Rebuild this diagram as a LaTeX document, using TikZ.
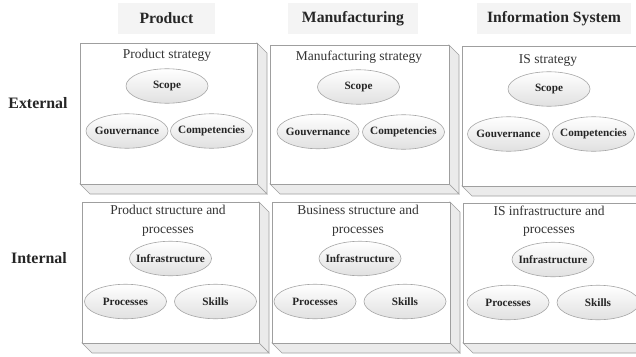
\documentclass[tikz,border=0pt]{standalone}
\usepackage{fontspec}
\setmainfont{Liberation Serif}
\usetikzlibrary{shapes.geometric}
\tikzset{
  hdr/.style={fill=gray!9, minimum width=97pt, minimum height=31pt, inner sep=0pt, font=\fontsize{15.7}{18}\selectfont\bfseries, text=black!85},
  rowlab/.style={font=\fontsize{15.9}{18}\selectfont\bfseries, text=black!85},
  ttl/.style={font=\fontsize{13.5}{18.5}\selectfont, text=black!80, align=center},
  elli/.style={ellipse, draw=gray!70, line width=0.6pt, top color=white, bottom color=gray!24, minimum width=82pt, minimum height=34.5pt, inner sep=0pt, font=\fontsize{11.2}{13}\selectfont\bfseries, text=black!85, text width=0pt, align=center, execute at begin node=\hbox to 0pt\bgroup\hss, execute at end node=\hss\egroup},
  face/.style={draw=gray!75, line width=0.6pt, fill=white},
  bevel/.style={draw=gray!75, line width=0.6pt, fill=gray!16},
}
\newcommand{\cubebox}[5]{% name, x1,y1,x2,y2
  \fill[bevel] (#4,#3) -- (#4+10,#3+10) -- (#4+10,#5+10) -- (#4,#5) -- cycle;
  \fill[bevel] (#2,#5) -- (#4,#5) -- (#4+10,#5+10) -- (#2+10,#5+10) -- cycle;
  \draw[face] (#2,#3) rectangle (#4,#5);
  \coordinate (#1) at ({(#2+#4)/2},{(#3+#5)/2});
}
\begin{document}
\begin{tikzpicture}[x=1pt,y=-1pt]
\useasboundingbox (0,0) rectangle (636,356);
\clip (0,0) rectangle (636,356);
% headers
\node[hdr] (hprod) at (166.5,18.5) {Product};
\node[hdr, minimum width=130pt] (hman) at (353,18.5) {Manufacturing};
\node[hdr, minimum width=154pt] (his) at (554,18.5) {Information System};
\node[rowlab] (lext) at (38,103) {External};
\node[rowlab] (lint) at (39,258) {Internal};
% boxes
\cubebox{b11}{80}{43}{257}{184}
\cubebox{b12}{270}{45}{449}{184}
\cubebox{b13}{462}{46}{660}{186}
\cubebox{b21}{82}{202}{259}{343}
\cubebox{b22}{272}{202}{450}{343}
\cubebox{b23}{463}{203}{660}{343}
% row 1
\node[ttl] (t11) at (167,55) {Product strategy};
\node[elli] (s11) at (167,86) {Scope};
\node[elli] (g11) at (127,131) {Gouvernance};
\node[elli] (c11) at (211.5,131) {Competencies};
\node[ttl] (t12) at (359,57) {Manufacturing strategy};
\node[elli] (s12) at (358.5,87) {Scope};
\node[elli] (g12) at (318,131.5) {Gouvernance};
\node[elli] (c12) at (403.5,132) {Competencies};
\node[ttl] (t13) at (548,60) {IS strategy};
\node[elli] (s13) at (549,89) {Scope};
\node[elli] (g13) at (508.5,134) {Gouvernance};
\node[elli] (c13) at (593.5,134) {Competencies};
% row 2
\node[ttl] (t21) at (168,220.5) {Product structure and\\processes};
\node[elli] (i21) at (170.5,258.5) {Infrastructure};
\node[elli] (p21) at (125.5,301.5) {Processes};
\node[elli] (k21) at (215.5,301.5) {Skills};
\node[ttl] (t22) at (358,220.5) {Business structure and\\processes};
\node[elli] (i22) at (360,258.5) {Infrastructure};
\node[elli] (p22) at (315,301.5) {Processes};
\node[elli] (k22) at (405,301.5) {Skills};
\node[ttl] (t23) at (549,221) {IS infrastructure and\\processes};
\node[elli] (i23) at (553,259.5) {Infrastructure};
\node[elli] (p23) at (508,302.5) {Processes};
\node[elli] (k23) at (598,302.5) {Skills};
\end{tikzpicture}
\end{document}
